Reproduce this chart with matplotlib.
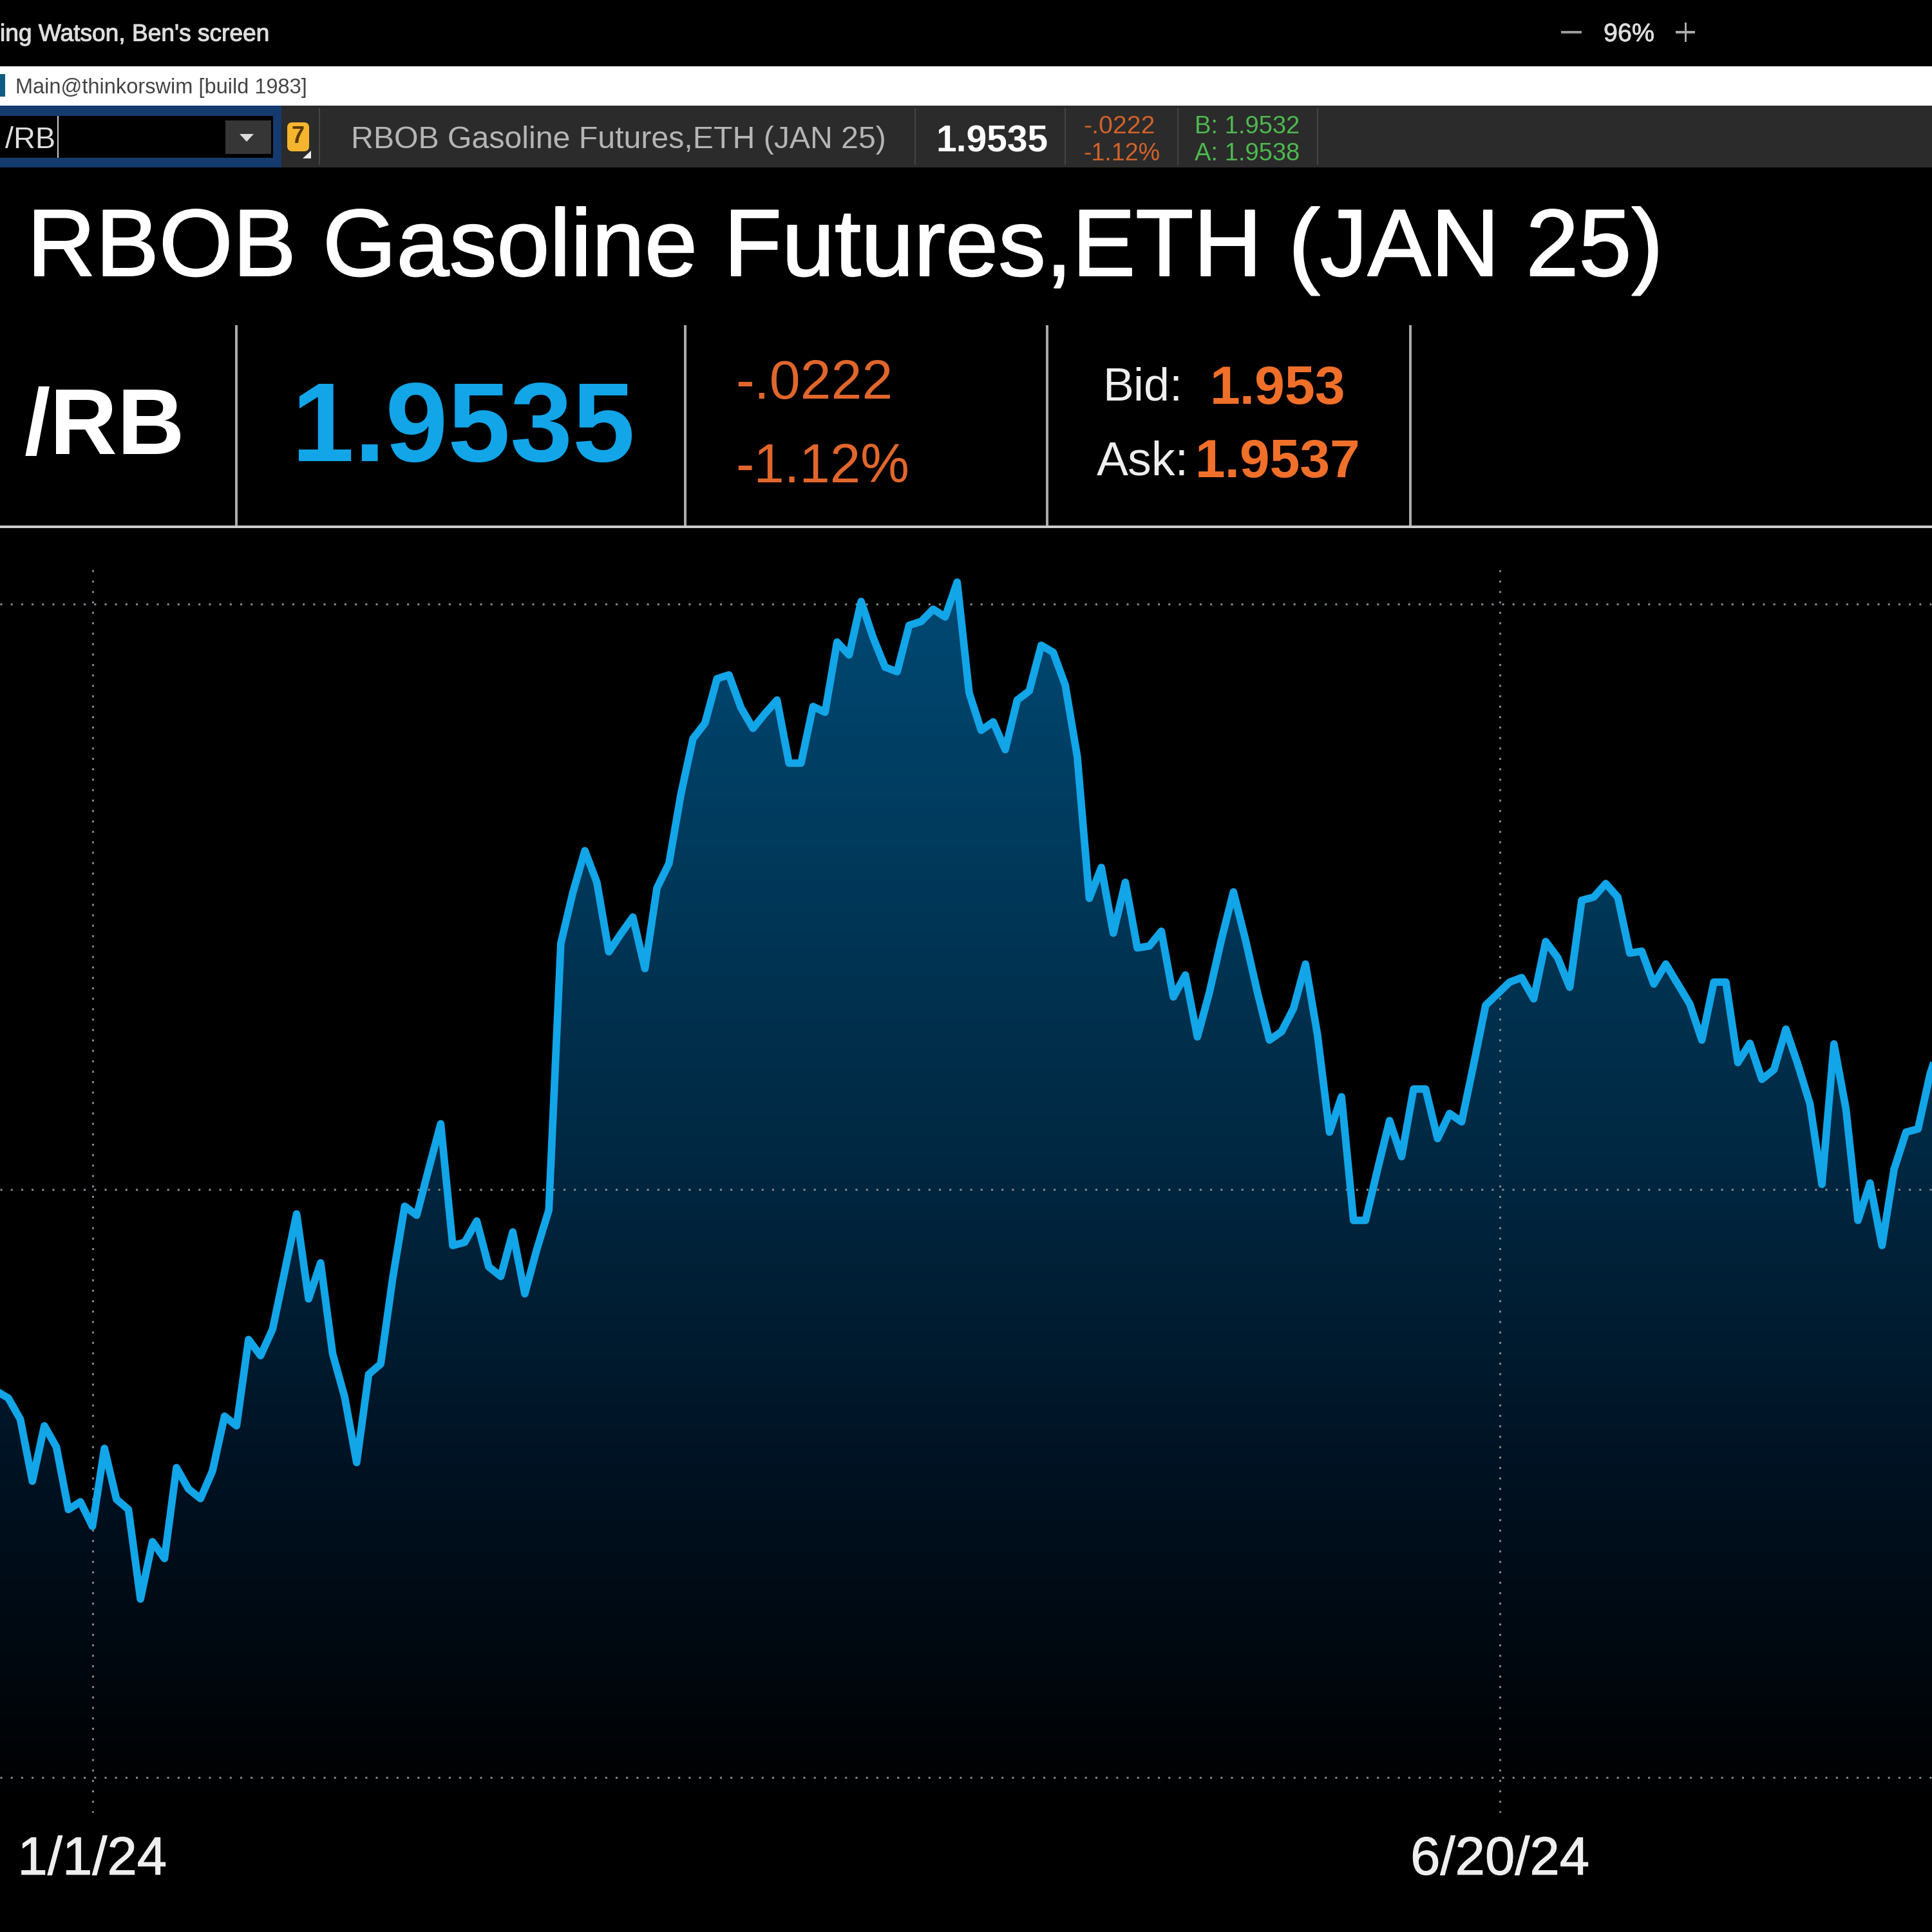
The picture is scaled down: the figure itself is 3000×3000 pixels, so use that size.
import numpy as np
import matplotlib
matplotlib.use('Agg')
import matplotlib.pyplot as plt
import matplotlib.patheffects as pe
from matplotlib.colors import LinearSegmentedColormap
from matplotlib.patches import Rectangle, Polygon, FancyBboxPatch

plt.rcParams['font.family'] = ['Liberation Sans', 'DejaVu Sans']

# daily closes, first value is about 8 sessions before 1/1/24
prices = [
    2.168, 2.1658, 2.1592, 2.14, 2.1572, 2.1506, 2.1312, 2.1336, 2.126, 2.1502,
    2.1344, 2.1312, 2.1034, 2.1212, 2.116, 2.1442, 2.1376, 2.1346, 2.1432, 2.1602,
    2.1572, 2.184, 2.179, 2.1872, 2.205, 2.223, 2.1966, 2.2078, 2.1796, 2.1662,
    2.1458, 2.1732, 2.1764, 2.203, 2.2254, 2.2226, 2.237, 2.251, 2.2132, 2.2142,
    2.2208, 2.2066, 2.2036, 2.2174, 2.1982, 2.212, 2.2242, 2.307, 2.3228, 2.3358,
    2.326, 2.3044, 2.31, 2.3152, 2.2992, 2.3242, 2.3318, 2.3534, 2.3706, 2.3754,
    2.3892, 2.3904, 2.3802, 2.3738, 2.3784, 2.3826, 2.363, 2.363, 2.3806, 2.3788,
    2.4006, 2.3966, 2.4132, 2.402, 2.3928, 2.3914, 2.4058, 2.407, 2.4108, 2.4084,
    2.4192, 2.3848, 2.3732, 2.3758, 2.3672, 2.3826, 2.3854, 2.3996, 2.3974, 2.3872,
    2.365, 2.321, 2.3306, 2.3102, 2.326, 2.3056, 2.3062, 2.3108, 2.2904, 2.2972,
    2.278, 2.2918, 2.3082, 2.323, 2.3082, 2.2918, 2.277, 2.2796, 2.2868, 2.3006,
    2.2786, 2.2484, 2.2594, 2.221, 2.221, 2.2368, 2.252, 2.2408, 2.2618, 2.2618,
    2.2464, 2.2542, 2.2516, 2.2694, 2.2878, 2.2914, 2.295, 2.2964, 2.2898, 2.3076,
    2.3026, 2.2934, 2.3204, 2.3214, 2.3256, 2.3214, 2.304, 2.3046, 2.2944, 2.3006,
    2.2944, 2.2882, 2.277, 2.295, 2.295, 2.27, 2.276, 2.2648, 2.2678, 2.2804,
    2.2694, 2.2572, 2.2322, 2.2758, 2.2556, 2.221, 2.2326, 2.2132, 2.2368, 2.2484,
    2.2494, 2.2664, 2.278,
]
first_session = -8
date_positions = [0, 117.2]
date_labels = ['1/1/24', '6/20/24']
grid_levels = [2.048, 2.2306, 2.4124]

symbol = '/RB'
contract_name = 'RBOB Gasoline Futures,ETH (JAN 25)'
last_price = '1.9535'
change = '-.0222'
change_pct = '-1.12%'
bid = '1.953'
ask = '1.9537'
toolbar_bid = 'B: 1.9532'
toolbar_ask = 'A: 1.9538'

BLUE = '#12a5e8'
ORANGE = '#e0662c'

W = 3000
fig = plt.figure(figsize=(30, 30), dpi=100, facecolor='black')

# chart part
bottom_px, top_px = 2815, 880
ax = fig.add_axes([0, (W - bottom_px) / W, 1, (bottom_px - top_px) / W])
ax.set_facecolor('black')
sessions = np.arange(first_session, first_session + len(prices))
xlim = (-143.5 / 18.65, (W - 143.5) / 18.65)
ylim = (2.6 - 0.0002 * bottom_px, 2.6 - 0.0002 * top_px)

poly = ax.fill_between(sessions, prices, ylim[0], color='none', lw=0)
fade = LinearSegmentedColormap.from_list('fade', ['#000000', '#00101f', '#00263f', '#003859', '#014a75'])
grad = ax.imshow(np.linspace(1, 0, 256).reshape(-1, 1), cmap=fade, aspect='auto', vmin=0, vmax=1,
                 extent=(xlim[0], xlim[1], ylim[0], ylim[1]), zorder=1)
grad.set_clip_path(poly.get_paths()[0], transform=ax.transData)
ax.plot(sessions, prices, color=BLUE, lw=8.4, solid_joinstyle='round', zorder=3)

ax.set_xlim(xlim)
ax.set_ylim(ylim)
ax.set_xticks(date_positions)
ax.set_xticklabels(date_labels, fontsize=60, color='#eeeeee',
                   path_effects=[pe.withStroke(linewidth=0.8, foreground='#eeeeee')])
ax.set_yticks(grid_levels)
ax.set_yticklabels([])
ax.tick_params(length=0, pad=25)
ax.grid(True, color='#7d8a8e', lw=2.2, linestyle=(0, (1, 4.3)), zorder=2)
ax.set_axisbelow(False)
for s in ax.spines.values():
    s.set_visible(False)

# quote panel and window chrome, in pixels of the picture
ov = fig.add_axes([0, 0, 1, 1], facecolor='none')
ov.set_xlim(0, W)
ov.set_ylim(W, 0)
ov.axis('off')


def box(x0, y0, x1, y1, c):
    ov.add_patch(Rectangle((x0, y0), x1 - x0, y1 - y0, facecolor=c, edgecolor='none'))


def put(s, x0, x1, yc, c, weight='normal', stroke=0):
    t = ov.text(x0, yc, s, color=c, fontweight=weight, fontsize=40, ha='left', va='center_baseline')
    r = fig.canvas.get_renderer()
    w = t.get_window_extent(r).width
    t.set_fontsize(40 * (x1 - x0) / w)
    if stroke:
        t.set_path_effects([pe.withStroke(linewidth=stroke, foreground=c)])
    return t


box(0, 103, W, 164, 'white')
box(0, 164, W, 260, '#2b2b2b')
box(0, 164, 437, 260, '#153a6e')
box(0, 180, 424, 245, 'black')
box(350, 187, 421, 239, '#363636')
ov.add_patch(Polygon([[372, 208], [394, 208], [383, 220]], facecolor='#dddddd'))
ov.add_patch(FancyBboxPatch((450, 194), 26, 37, boxstyle='round,pad=4,rounding_size=8', facecolor='#f5b52e', edgecolor='none'))
ov.text(463, 213, '7', color='#5a3a00', fontsize=26, fontweight='bold', ha='center', va='center')
ov.add_patch(Polygon([[470, 246], [483, 246], [483, 234]], facecolor='#eeeeee'))
box(0, 115, 8, 150, '#0f5a80')
box(89, 180, 91, 245, '#cccccc')
for x in [496, 1421, 1654, 1829, 2046]:
    box(x - 1, 168, x + 1, 256, '#444444')

put('ing Watson, Ben\'s screen', 0, 418, 50, '#dddddd', stroke=0.8)
box(2424, 48, 2456, 52, '#999999')
put('96%', 2490, 2569, 50, '#dddddd', stroke=0.6)
box(2602, 48, 2632, 52, '#aaaaaa')
box(2616, 35, 2619, 65, '#aaaaaa')
put('Main@thinkorswim [build 1983]', 24, 476, 133, '#444444')
put(symbol, 8, 86, 213, '#dddddd')
put(contract_name, 545, 1376, 213, '#b5b5b5')
put(last_price, 1453, 1627, 215, 'white', 'bold')
put(change, 1682, 1793, 193, '#d2622a')
put(change_pct, 1682, 1801, 235, '#d2622a')
put(toolbar_bid, 1855, 2018, 193, '#4fb84f')
put(toolbar_ask, 1855, 2018, 235, '#4fb84f')

put(contract_name, 42, 2579, 375, 'white', stroke=1.5)
for x in [367, 1064, 1626, 2190]:
    box(x - 2, 505, x + 2, 817, '#aaaaaa')
box(0, 816, W, 820, '#cccccc')
put(symbol, 38, 287, 652, 'white', 'bold')
put(last_price, 453, 985, 652, BLUE, 'bold')
put(change, 1142, 1385, 588, ORANGE)
put(change_pct, 1142, 1412, 718, ORANGE)
put('Bid:', 1712, 1836, 595, '#eeeeee')
put(bid, 1879, 2089, 596, '#f0702a', 'bold')
put('Ask:', 1703, 1846, 710, '#eeeeee')
put(ask, 1856, 2112, 711, '#f0702a', 'bold')

fig.savefig('out.png', dpi=100, facecolor='black')
